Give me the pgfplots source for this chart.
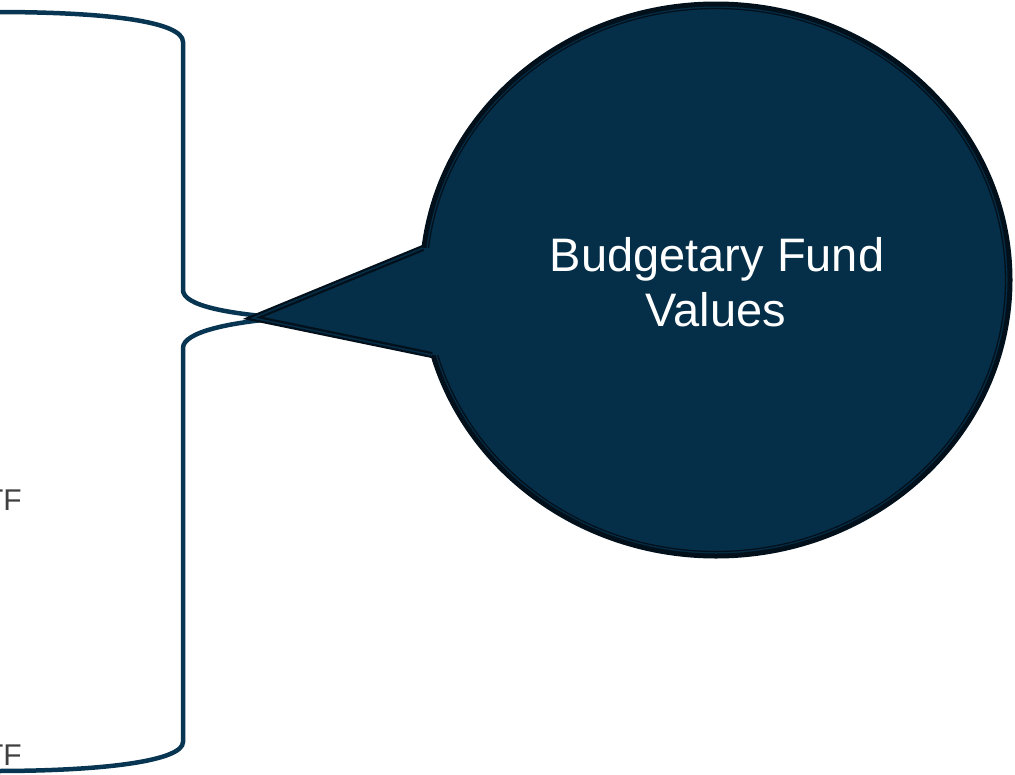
\documentclass[border=0pt]{standalone}
\usepackage{pgfplots}
\pgfplotsset{compat=1.18}
\usepackage{fontspec}
\setmainfont{Liberation Sans}
\definecolor{bubble}{HTML}{052E48}
\definecolor{bubbleedge}{HTML}{01101B}
\definecolor{brace}{HTML}{073552}
\definecolor{lbl}{HTML}{404040}
\begin{document}
\begin{tikzpicture}
\begin{axis}[
    width=1015pt, height=774pt, scale only axis,
    xmin=0, xmax=1015, ymin=0, ymax=774,
    y dir=reverse,
    hide axis,
    clip mode=global,
  ]
  % brace
  \draw[brace, line width=4.5pt, line join=round]
    (axis cs:-5,12) .. controls (axis cs:110,12) and (axis cs:183,22) .. (axis cs:183,42)
    -- (axis cs:183,290) .. controls (axis cs:183,306) and (axis cs:230,314) .. (axis cs:285,318);
  \draw[brace, line width=4.5pt, line join=round]
    (axis cs:285,318) .. controls (axis cs:230,322) and (axis cs:183,332) .. (axis cs:183,348)
    -- (axis cs:183,742) .. controls (axis cs:183,760) and (axis cs:110,771) .. (axis cs:-5,771);
  % bubble
  \draw[fill=bubble, draw=bubbleedge, line width=5pt]
    (axis cs:716,280) ellipse [x radius=294, y radius=276];
  \draw[draw=bubbleedge, line width=1.3pt]
    (axis cs:716,280) ellipse [x radius=289.5, y radius=271.5];
  \fill[bubble] (axis cs:423,248) -- (axis cs:253,318) -- (axis cs:432,355)
    -- (axis cs:490,355) -- (axis cs:490,248) -- cycle;
  \draw[draw=bubbleedge, line width=2.3pt, double=bubble, double distance=1.5pt, line join=miter]
    (axis cs:423,248) -- (axis cs:253,318) -- (axis cs:432,355);
  \node[white, font=\fontsize{47}{55}\selectfont, anchor=base, inner sep=0]
    at (axis cs:717,271) {Budgetary Fund};
  \node[white, font=\fontsize{47}{55}\selectfont, anchor=base, inner sep=0]
    at (axis cs:716,326) {Values};
  % cut-off labels at the left edge
  \node[lbl, font=\fontsize{30}{36}\selectfont, anchor=base east, inner sep=0]
    at (axis cs:22,510) {ETF};
  \node[lbl, font=\fontsize{30}{36}\selectfont, anchor=base east, inner sep=0]
    at (axis cs:22,765) {ETF};
\end{axis}
\pgfresetboundingbox
\useasboundingbox (current axis.south west) rectangle (current axis.north east);
\end{tikzpicture}
\end{document}
